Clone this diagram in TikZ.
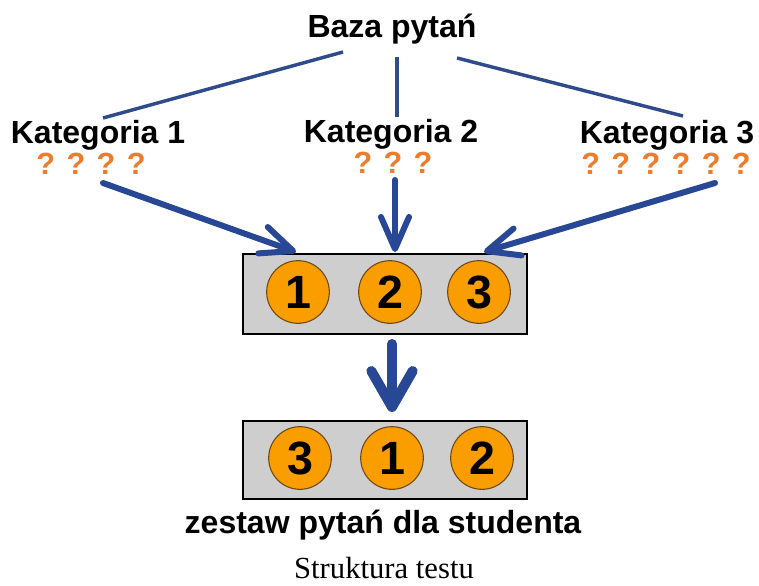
\documentclass[tikz,border=0pt]{standalone}
\usepackage{fontspec}
\setmainfont{Liberation Sans}
\newfontfamily\capserif{Liberation Serif}
\usetikzlibrary{arrows.meta}
\definecolor{lineblue}{RGB}{47,75,140}
\definecolor{arrblue}{RGB}{40,72,150}
\definecolor{qorange}{RGB}{235,125,45}
\definecolor{circfill}{RGB}{250,158,0}
\definecolor{circline}{RGB}{110,70,20}
\definecolor{boxgray}{RGB}{206,206,206}
\tikzset{
  title/.style={font=\fontsize{24}{28}\selectfont\bfseries, inner sep=0pt, anchor=base},
  qmarks/.style={font=\fontsize{23}{28}\selectfont\bfseries, text=qorange, inner sep=0pt, anchor=base},
  thinline/.style={draw=lineblue, line width=2.6pt},
  catarrow/.style={draw=arrblue, line width=4.5pt, line cap=round, -{Straight Barb[round,length=24pt,width=21pt]}},
  bigarrow/.style={draw=arrblue, line width=7.5pt, line cap=round, -{Straight Barb[round,length=27pt,width=31pt]}},
  holder/.style={draw=black, fill=boxgray, line width=1.2pt, minimum width=213pt, inner sep=0pt},
  num/.style={circle, draw=circline, fill=circfill, line width=0.8pt, minimum size=47pt, inner sep=0pt,
    font=\fontsize{35}{40}\selectfont\bfseries}
}
\begin{document}
\begin{tikzpicture}[x=0.75pt,y=-0.75pt]
\useasboundingbox (0,0) rectangle (759,585);
% titles
\node[title] (baza) at (392,38) {Baza pytań};
\node[title] (k1) at (98,143) {Kategoria 1};
\node[title] (k2) at (391,142) {Kategoria 2};
\node[title] (k3) at (667,143) {Kategoria 3};
\node[qmarks] (q1) at (91,174) {? ? ? ?};
\node[qmarks] (q2) at (393,173) {? ? ?};
\node[qmarks] (q3) at (666,174) {? ? ? ? ? ?};
% thin connector end points
\coordinate (bl) at (343,52);
\coordinate (kl) at (103,118);
\coordinate (bm) at (397,57);
\coordinate (km) at (397,117);
\coordinate (br) at (457,58);
\coordinate (kr) at (683,116);
\draw[thinline] (bl) -- (kl);
\draw[thinline] (bm) -- (km);
\draw[thinline] (br) -- (kr);
% boxes
\node[holder, minimum height=60pt] (box1) at (385,294) {};
\node[holder, minimum height=58.5pt] (box2) at (385,460) {};
\node[num] (a1) at (298,292) {1};
\node[num] (a2) at (390,292) {2};
\node[num] (a3) at (479,292) {3};
\node[num] (b1) at (300,458) {3};
\node[num] (b2) at (392,458) {1};
\node[num] (b3) at (482,458) {2};
% category arrows
\coordinate (s1) at (103,183);
\coordinate (e1) at (296,252);
\coordinate (s2) at (395,180);
\coordinate (e2) at (395,252);
\coordinate (s3) at (715,183);
\coordinate (e3) at (484,252);
\draw[catarrow] (s1) -- (e1);
\draw[catarrow] (s2) -- (e2);
\draw[catarrow] (s3) -- (e3);
% big arrow
\coordinate (ds) at (392,344);
\coordinate (de) at (392,412);
\draw[bigarrow] (ds) -- (de);
% labels
\node[title] (zest) at (383,533) {zestaw pytań dla studenta};
\node[font=\capserif\fontsize{23}{27}\selectfont, inner sep=0pt, anchor=base] (cap) at (384,578) {Struktura testu};
\end{tikzpicture}
\end{document}
